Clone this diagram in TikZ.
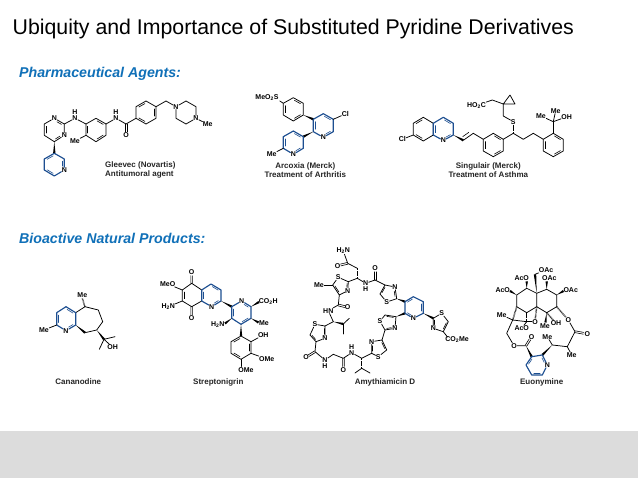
\documentclass[tikz,border=0pt]{standalone}
\usepackage{fontspec}
\setmainfont{Liberation Sans}
\usetikzlibrary{calc}
\definecolor{pyblue}{HTML}{1D4F91}
\definecolor{headblue}{HTML}{1070B8}
\definecolor{band}{HTML}{DCDCDC}
\tikzset{
  bond/.style={black,line width=.75pt,line join=round,line cap=round},
  py/.style={pyblue,line width=1.15pt,line join=round,line cap=round},
  inner/.style={line width=.6pt},
  atom/.style={font=\fontsize{7}{8}\selectfont\bfseries,inner sep=.2pt,text=black},
  capt/.style={font=\fontsize{8}{9}\selectfont\bfseries,inner sep=0pt,text=black!85,text height=5.8pt,text depth=1.6pt},
  head/.style={font=\fontsize{14.2}{16}\selectfont\bfseries\itshape,text=headblue,inner sep=0pt,anchor=base west},
  titletext/.style={font=\fontsize{21.3}{24}\selectfont,text=black,inner sep=0pt,anchor=base west},
  hashb/.style={black,line width=1.5pt,dash pattern=on .5pt off .7pt}
}
\newcommand\crd[3]{\coordinate (#1) at (#2,#3);}
\newcommand\atm[4]{\node[atom] (#1) at (#2,#3) {#4};}
\newcommand\bd[1]{\draw[bond] #1;}
\newcommand\pb[1]{\draw[py] #1;}
\newcommand\db[3]{\draw[bond,inner] ($($(#1)!.14!(#2)$)!.17!(#3)$) -- ($($(#2)!.14!(#1)$)!.17!(#3)$);}
\newcommand\dbN[3]{\draw[bond,inner] ($($(#1)!.14!(#2)$)!.17!(#3)$) -- ($($(#2)!.32!(#1)$)!.17!(#3)$);}
\newcommand\dbp[3]{\draw[py,inner] ($($(#1)!.14!(#2)$)!.17!(#3)$) -- ($($(#2)!.14!(#1)$)!.17!(#3)$);}
\newcommand\dbpN[3]{\draw[py,inner] ($($(#1)!.14!(#2)$)!.17!(#3)$) -- ($($(#2)!.32!(#1)$)!.17!(#3)$);}
\newcommand\dbl[2]{\draw[bond,inner] ($(#1)!.9pt!90:(#2)$) -- ($(#1)!.7!(#2)!.9pt!-90:(#1)$); \draw[bond,inner] ($(#1)!.9pt!-90:(#2)$) -- ($(#1)!.7!(#2)!.9pt!90:(#1)$);}
\newcommand\wdg[2]{\fill[black] (#1) -- ($(#2)!1.2pt!90:(#1)$) -- ($(#2)!1.2pt!-90:(#1)$) -- cycle;}
\newcommand\hsh[2]{\draw[hashb] (#1) -- (#2);}
\newcommand\sbs[1]{\textsubscript{#1}}
\begin{document}
\begin{tikzpicture}[x=1pt,y=-1pt]
\useasboundingbox (0,0) rectangle (638,478);
\fill[white] (0,0) rectangle (638,478);
\fill[band] (0,431) rectangle (638,478);
\node[titletext] (title) at (12.5,34.3) {Ubiquity and Importance of Substituted Pyridine Derivatives};
\node[head] (h1) at (19,77.5) {Pharmaceutical Agents:};
\node[head] (h2) at (19,243.3) {Bioactive Natural Products:};

%% Gleevec
\atm{gn1}{54.3}{118.3}{N}\atm{gn2}{64.3}{135.3}{N}
\crd{gc2}{64.3}{124}\crd{gc4}{54.3}{141.7}\crd{gc5}{44.3}{135.3}\crd{gc6}{44.3}{124}
\crd{gcen}{54.3}{130}
\bd{(gn1)--(gc2)--(gn2)--(gc4)--(gc5)--(gc6)--(gn1)}
\dbN{gc2}{gn1}{gcen}\db{gc5}{gc6}{gcen}\dbN{gc4}{gn2}{gcen}
\atm{gnh}{75}{118.3}{N}\node[atom] (gnhh) at (75,112.3) {H};
\crd{ga1}{86}{124}\crd{ga2}{96}{118.3}\crd{ga3}{106}{124}\crd{ga4}{106}{135.3}\crd{ga5}{96}{141.7}\crd{ga6}{86}{135.3}\crd{gac}{96}{130}
\bd{(gc2)--(gnh)--(ga1)--(ga2)--(ga3)--(ga4)--(ga5)--(ga6)--(ga1)}
\db{ga2}{ga3}{gac}\db{ga4}{ga5}{gac}\db{ga6}{ga1}{gac}
\atm{gme}{75}{141}{Me}\bd{(ga6)--(gme)}
\atm{gnh2}{116}{118.3}{N}\node[atom] (gnh2h) at (116,112.3) {H};
\crd{gco}{126}{124}\atm{go}{126}{135.3}{O}
\bd{(ga3)--(gnh2)--(gco)}\dbl{gco}{go}
\crd{gb1}{136}{118.3}\crd{gb2}{136}{106.7}\crd{gb3}{146}{101}\crd{gb4}{156}{106.7}\crd{gb5}{156}{118.3}\crd{gb6}{146}{124}\crd{gbc}{146}{112.5}
\bd{(gco)--(gb1)--(gb2)--(gb3)--(gb4)--(gb5)--(gb6)--(gb1)}
\db{gb2}{gb3}{gbc}\db{gb4}{gb5}{gbc}\db{gb6}{gb1}{gbc}
\crd{gch}{166}{101}\atm{gp1}{176}{106.7}{N}\crd{gp2}{186}{101}\crd{gp3}{196}{106.7}\atm{gp4}{196}{118.3}{N}\crd{gp5}{186}{124}\crd{gp6}{176}{118.3}
\bd{(gb4)--(gch)--(gp1)--(gp2)--(gp3)--(gp4)--(gp5)--(gp6)--(gp1)}
\atm{gpme}{207.7}{124.3}{Me}\bd{(gp4)--(gpme)}
\crd{gy1}{54.3}{153.3}\crd{gy2}{64.3}{159}\atm{gyn}{64.3}{170}{N}\crd{gy4}{54.3}{176}\crd{gy5}{44.3}{170}\crd{gy6}{44.3}{159}\crd{gyc}{54.3}{164.5}
\wdg{gc4}{gy1}
\pb{(gy1)--(gy2)--(gyn)--(gy4)--(gy5)--(gy6)--(gy1)}
\dbpN{gy2}{gyn}{gyc}\dbp{gy4}{gy5}{gyc}\dbp{gy6}{gy1}{gyc}
\node[capt,anchor=west] (gl1) at (105,165.5) {Gleevec (Novartis)};
\node[capt,anchor=west] (gl2) at (105,174.5) {Antitumoral agent};

%% Arcoxia
\atm{as}{267}{98}{MeO\sbs{2}S}
\crd{ar1}{293.3}{97.7}\crd{ar2}{303.3}{103.3}\crd{ar3}{303.3}{115}\crd{ar4}{293.3}{121}\crd{ar5}{283.3}{115}\crd{ar6}{283.3}{103.3}\crd{arc}{293.3}{109.3}
\crd{asb}{279.8}{101}
\bd{(asb)--(ar6)--(ar1)--(ar2)--(ar3)--(ar4)--(ar5)--(ar6)}
\db{ar1}{ar2}{arc}\db{ar3}{ar4}{arc}\db{ar5}{ar6}{arc}
\crd{ap1}{313.3}{119.3}\crd{ap2}{323.3}{113.7}\crd{ap3}{333.3}{119.3}\crd{ap4}{333.3}{131.7}\atm{apn}{323.3}{137.3}{N}\crd{ap6}{313.3}{131.7}\crd{apc}{323.3}{125.5}
\wdg{ar3}{ap1}
\pb{(ap1)--(ap2)--(ap3)--(ap4)--(apn)--(ap6)--(ap1)}
\dbp{ap2}{ap3}{apc}\dbpN{ap4}{apn}{apc}\dbp{ap6}{ap1}{apc}
\atm{acl}{345.3}{114}{Cl}\bd{(ap3)--(acl)}
\crd{aq1}{303.3}{136.7}\crd{aq2}{303.3}{148.3}\atm{aqn}{293.3}{154.3}{N}\crd{aq4}{283.3}{148.3}\crd{aq5}{283.3}{136.7}\crd{aq6}{293.3}{131}\crd{aqc}{293.3}{142.5}
\wdg{ap6}{aq1}
\pb{(aq1)--(aq2)--(aqn)--(aq4)--(aq5)--(aq6)--(aq1)}
\dbpN{aq2}{aqn}{aqc}\dbp{aq4}{aq5}{aqc}\dbp{aq6}{aq1}{aqc}
\atm{ame}{271.7}{154.3}{Me}\bd{(aq4)--(ame)}
\node[capt] (al1) at (305.3,166) {Arcoxia (Merck)};
\node[capt] (al2) at (305.3,175) {Treatment of Arthritis};

%% Singulair
\atm{scl}{402.3}{139.3}{Cl}
\crd{sa1}{413.3}{123.3}\crd{sa2}{423.3}{117.3}\crd{sa3}{433.3}{123.3}\crd{sa4}{433.3}{135}\crd{sa5}{423.3}{141}\crd{sa6}{413.3}{135}\crd{sac}{423.3}{129}
\bd{(scl)--(sa6)--(sa1)--(sa2)--(sa3)--(sa4)--(sa5)--(sa6)}
\db{sa1}{sa2}{sac}\db{sa5}{sa6}{sac}
\crd{sb2}{443.3}{117.3}\crd{sb3}{453.3}{123.3}\crd{sb4}{453.3}{135}\atm{sbn}{443.3}{140.5}{N}\crd{sbc}{443.3}{129}
\pb{(sa3)--(sb2)--(sb3)--(sb4)--(sbn)--(sa4)--(sa3)}
\dbp{sb2}{sb3}{sbc}\dbpN{sb4}{sbn}{sbc}\dbp{sa3}{sa4}{sbc}
\crd{sv1}{463.3}{140.3}\crd{sv2}{473.3}{133.3}
\wdg{sb4}{sv1}
\crd{sr1}{483.3}{139.3}\crd{sr2}{493.3}{133.3}\crd{sr3}{503.3}{139.3}\crd{sr4}{503.3}{151}\crd{sr5}{493.3}{156.7}\crd{sr6}{483.3}{151}\crd{src}{493.3}{145}
\bd{(sv1)--(sv2)--(sr1)--(sr2)--(sr3)--(sr4)--(sr5)--(sr6)--(sr1)}
\db{sv1}{sv2}{sb3}
\db{sr2}{sr3}{src}\db{sr4}{sr5}{src}\db{sr6}{sr1}{src}
\crd{sc1}{513.3}{133.3}\crd{sc2}{523.3}{139.3}\crd{sc3}{533.3}{133.3}
\crd{st1}{543.3}{139.3}\crd{st2}{553.3}{133.3}\crd{st3}{563.3}{139.3}\crd{st4}{563.3}{151}\crd{st5}{553.3}{156.7}\crd{st6}{543.3}{151}\crd{stc}{553.3}{145}
\bd{(sr3)--(sc1)--(sc2)--(sc3)--(st1)--(st2)--(st3)--(st4)--(st5)--(st6)--(st1)}
\db{st2}{st3}{stc}\db{st4}{st5}{stc}\db{st6}{st1}{stc}
\atm{ss}{513.3}{121.7}{S}\hsh{sc1}{ss}
\crd{sch}{503.3}{116}\crd{scp}{503.3}{104}\crd{scp2}{510}{95}\crd{scp3}{515}{104}\crd{sch2}{492.3}{100}
\atm{sco}{476.5}{105.5}{HO\sbs{2}C}
\bd{(ss)--(sch)--(scp)--(scp2)--(scp3)--(scp)--(sch2)--(sco)}
\crd{sq}{553.3}{121.7}\bd{(st2)--(sq)}
\atm{sme1}{555.7}{110.7}{Me}\atm{sme2}{541}{116}{Me}\atm{soh}{566.7}{116.7}{OH}
\bd{(sme1)--(sq)--(sme2)}\bd{(sq)--(soh)}
\node[capt] (sl1) at (488.3,166) {Singulair (Merck)};
\node[capt] (sl2) at (488.3,175) {Treatment of Asthma};

%% Cananodine
\crd{cp1}{56.7}{312.7}\crd{cp2}{66}{306.7}\crd{cp3}{75.7}{312.7}\crd{cp4}{75.7}{325}\atm{cpn}{66}{330.7}{N}\crd{cp6}{56.7}{325}\crd{cpc}{66}{318.7}
\crd{c7a}{85}{306.7}\crd{c7b}{98.3}{310}\crd{c7c}{102.7}{321.7}\crd{c7d}{96.7}{330}\crd{c7e}{85}{332.7}
\bd{(cp3)--(c7a)--(c7b)--(c7c)--(c7d)--(c7e)}
\wdg{cp4}{c7e}
\pb{(cp1)--(cp2)--(cp3)--(cp4)--(cpn)--(cp6)--(cp1)}
\dbp{cp2}{cp3}{cpc}\dbpN{cp4}{cpn}{cpc}\dbp{cp6}{cp1}{cpc}
\atm{cme}{44}{330}{Me}\bd{(cp6)--(cme)}
\atm{cme2}{82.3}{295}{Me}\hsh{c7a}{$(cme2)+(0,3.5)$}
\crd{cq}{104}{339.3}\wdg{c7d}{cq}
\crd{cm3}{115}{336.7}\crd{cm4}{99.3}{349.3}\atm{coh}{112.7}{347.3}{OH}
\bd{(cm3)--(cq)--(cm4)}\bd{(cq)--(coh)}
\node[capt] (cl) at (78.3,382.3) {Cananodine};

%% Streptonigrin
\crd{ta1}{191.7}{283.3}\atm{tao}{191.7}{272.5}{O}\crd{ta2}{182.3}{290}\crd{ta3}{182.3}{301}\crd{ta4}{191.7}{306.7}\atm{tbo}{191.7}{318.3}{O}\crd{ta5}{201.7}{301}\crd{ta6}{201.7}{290}\crd{tac}{192}{295}
\bd{(ta5)--(ta4)--(ta3)--(ta2)--(ta1)--(ta6)}
\db{ta2}{ta3}{tac}\dbl{ta1}{tao}\dbl{ta4}{tbo}
\crd{tb2}{211}{284}\crd{tb3}{221}{290}\crd{tb4}{221}{301}\atm{tbn}{211.7}{306.7}{N}\crd{tbc}{211.5}{295}
\pb{(ta6)--(tb2)--(tb3)--(tb4)--(tbn)--(ta5)--(ta6)}
\dbp{tb2}{tb3}{tbc}\dbpN{tb4}{tbn}{tbc}\dbp{ta5}{ta6}{tbc}
\atm{tmeo}{167.7}{284}{MeO}\bd{(tmeo)--(ta2)}
\atm{th2n}{168.3}{306.7}{H\sbs{2}N}\bd{(th2n)--(ta3)}
\crd{tc1}{231.7}{306.7}\atm{tcn}{241.7}{301}{N}\crd{tc3}{251}{306.7}\crd{tc4}{251}{318.3}\crd{tc5}{241}{324.3}\crd{tc6}{231.7}{318.3}\crd{tcc}{241.3}{312.7}
\wdg{tb4}{tc1}
\pb{(tc1)--(tcn)--(tc3)--(tc4)--(tc5)--(tc6)--(tc1)}
\dbpN{tc3}{tcn}{tcc}\dbp{tc4}{tc5}{tcc}\dbp{tc6}{tc1}{tcc}
\atm{tco2}{268.3}{301.7}{CO\sbs{2}H}\crd{tcob}{259}{302}\wdg{tc3}{tcob}
\atm{tme}{264}{323.3}{Me}\crd{tmeb}{258.5}{322.5}\wdg{tc4}{tmeb}
\atm{tnh}{217.7}{324.3}{H\sbs{2}N}\crd{tnhb}{225}{323.5}\wdg{tc6}{tnhb}
\crd{td1}{241}{336}\crd{td2}{251}{341.7}\crd{td3}{251}{353.3}\crd{td4}{241}{359.3}\crd{td5}{231}{353.3}\crd{td6}{231}{341.7}\crd{tdc}{241}{347.5}
\wdg{tc5}{td1}
\bd{(td1)--(td2)--(td3)--(td4)--(td5)--(td6)--cycle}
\db{td1}{td6}{tdc}\db{td4}{td5}{tdc}\db{td2}{td3}{tdc}
\atm{toh}{263.3}{335}{OH}\bd{(td2)--(toh)}
\atm{tome}{266.7}{359}{OMe}\bd{(td3)--(tome)}
\atm{tom2}{246}{370}{OMe}\crd{tomb}{241}{366.5}\bd{(td4)--(tomb)}
\node[capt] (tl) at (218.3,382.3) {Streptonigrin};

%% Amythiamicin D
\atm{yh2n}{343.3}{251}{H\sbs{2}N}\crd{yc}{347.7}{263.3}\atm{yo}{337.7}{265.7}{O}\crd{ych}{357.3}{268.3}\crd{yst}{357.3}{278.3}
\bd{(yh2n)--(yc)--(ych)}\dbl{yc}{yo}\hsh{yst}{ych}
\crd{y1c2}{348.3}{281.7}\atm{y1s}{338.3}{277.3}{S}\crd{y1c5}{332.7}{285}\crd{y1c4}{339.3}{295}\atm{y1n}{347.7}{290.7}{N}\crd{y1c}{342}{285}
\bd{(yst)--(y1c2)--(y1s)--(y1c5)--(y1c4)--(y1n)--(y1c2)}\db{y1c5}{y1c4}{y1c}\dbN{y1c2}{y1n}{y1c}
\atm{yme}{319}{285}{Me}\bd{(yme)--(y1c5)}
\atm{ynh}{365.7}{283.3}{N}\node[atom] (ynhh) at (365.7,289.3) {H};
\crd{yco}{375}{280}\atm{yoo}{375}{268.3}{O}
\bd{(yst)--(ynh)--(yco)}\dbl{yco}{yoo}
\crd{y2c4}{385}{285}\crd{y2c5}{380}{294}\atm{y2s}{386.7}{302}{S}\crd{y2c2}{396.7}{298.7}\atm{y2n}{395}{287}{N}\crd{y2c}{388}{293}
\bd{(yco)--(y2c4)--(y2c5)--(y2s)--(y2c2)--(y2n)--(y2c4)}\db{y2c4}{y2c5}{y2c}\dbN{y2c2}{y2n}{y2c}
\crd{yc2}{338.3}{305}\atm{yo2}{347.7}{307.3}{O}\atm{yhn}{328.3}{310.7}{HN}\crd{ya}{333.3}{321.7}
\bd{(y1c4)--(yc2)--(yhn)--(ya)}\dbl{yc2}{yo2}
\crd{yib}{343.3}{324}\crd{yim1}{349.3}{318.3}\crd{yim2}{343.3}{334}
\wdg{ya}{yib}\bd{(yib)--(yim1)}\bd{(yib)--(yim2)}
\crd{y3c2}{325}{326}\atm{y3s}{315}{324.3}{S}\crd{y3c5}{310}{335}\crd{y3c4}{316}{341.7}\atm{y3n}{325}{338.3}{N}\crd{y3c}{318}{333}
\bd{(ya)--(y3c2)--(y3s)--(y3c5)--(y3c4)--(y3n)--(y3c2)}\db{y3c5}{y3c4}{y3c}\dbN{y3c2}{y3n}{y3c}
\crd{yc3}{315}{351.7}\atm{yo3}{306}{357.3}{O}\atm{yn3}{325}{360}{N}\node[atom] (yn3h) at (325,366) {H};
\crd{ych3}{333.3}{354.3}\crd{yc4}{343.3}{358.3}\atm{yo4}{343.3}{370}{O}\atm{yn4}{351.7}{352.7}{N}\node[atom] (yn4h) at (351.7,346.7) {H};
\crd{yd}{361.7}{358.3}\crd{yi}{361.7}{368.3}\crd{yj1}{355}{373}\crd{yj2}{370}{373}
\bd{(y3c4)--(yc3)--(yn3)--(ych3)--(yc4)--(yn4)--(yd)}\dbl{yc3}{yo3}\dbl{yc4}{yo4}
\hsh{yd}{yi}\bd{(yj1)--(yi)--(yj2)}
\crd{y4c2}{371.7}{353.3}\atm{y4n}{371.7}{341.7}{N}\crd{y4c4}{382}{340}\crd{y4c5}{386.7}{350}\atm{y4s}{378.3}{356.7}{S}\crd{y4c}{378}{348}
\bd{(yd)--(y4c2)--(y4n)--(y4c4)--(y4c5)--(y4s)--(y4c2)}\dbN{y4c2}{y4n}{y4c}\db{y4c4}{y4c5}{y4c}
\crd{y5c2}{385}{330}\atm{y5n}{395}{328.3}{N}\crd{y5c4}{396}{316.7}\crd{y5c5}{385}{315}\atm{y5s}{380}{321.3}{S}\crd{y5c}{388.5}{322}
\bd{(y4c4)--(y5c2)--(y5n)--(y5c4)--(y5c5)--(y5s)--(y5c2)}\dbN{y5c2}{y5n}{y5c}\db{y5c4}{y5c5}{y5c}
\crd{yp1}{405}{301.7}\crd{yp2}{413.3}{296.7}\crd{yp3}{423.3}{301.7}\crd{yp4}{423.3}{313.3}\atm{ypn}{413.3}{318.3}{N}\crd{yp6}{405}{313.3}\crd{ypc}{414}{307.5}
\wdg{y2c2}{yp1}\wdg{y5c4}{yp6}
\pb{(yp1)--(yp2)--(yp3)--(yp4)--(ypn)--(yp6)--(yp1)}
\dbp{yp1}{yp2}{ypc}\dbp{yp3}{yp4}{ypc}\dbpN{yp6}{ypn}{ypc}
\crd{y6c2}{433.3}{318.3}\atm{y6s}{441.7}{313.3}{S}\crd{y6c5}{448.3}{321.7}\crd{y6c4}{443.3}{331.7}\atm{y6n}{433.3}{328.3}{N}\crd{y6c}{440}{322}
\wdg{yp4}{y6c2}
\bd{(y6c2)--(y6s)--(y6c5)--(y6c4)--(y6n)--(y6c2)}\db{y6c5}{y6c4}{y6c}\dbN{y6c2}{y6n}{y6c}
\atm{yco2}{457}{340}{CO\sbs{2}Me}\crd{ycob}{447.5}{337}\bd{(y6c4)--(ycob)}
\node[capt] (yl) at (385,382.3) {Amythiamicin D};

%% Euonymine
\crd{e9}{536.7}{293.3}\crd{ea1}{526.7}{288.3}\crd{ea2}{516.7}{295}\crd{ea3}{516.7}{306.7}\crd{ea4}{526.7}{312.7}\crd{ea5}{536.7}{306.7}
\crd{eb1}{546.7}{289.3}\crd{eb2}{556.7}{295}\crd{eb3}{556.7}{306.7}\crd{eb4}{546.7}{312.7}
\bd{(e9)--(ea1)--(ea2)--(ea3)--(ea4)--(ea5)--(e9)--(eb1)--(eb2)--(eb3)--(eb4)--(ea5)}
\atm{eo1}{521.7}{278.3}{AcO}\crd{eo1b}{526.7}{281.5}\wdg{ea1}{eo1b}
\atm{eo2}{549.3}{278.3}{OAc}\crd{eo2b}{546.7}{281.5}\wdg{eb1}{eo2b}
\atm{eo3}{570.7}{290}{OAc}\crd{eo3b}{563.5}{291}\wdg{eb2}{eo3b}
\atm{eo4}{502.7}{290}{AcO}\crd{eo4b}{510}{291}\wdg{ea2}{eo4b}
\crd{ech}{535}{274.3}\atm{eo5}{546}{270}{OAc}\wdg{e9}{ech}\bd{(ech)--(eo5)}
\crd{ee}{512.7}{320}\hsh{ea3}{ee}
\atm{eme}{501.7}{315}{Me}\bd{(eme)--(ee)}
\crd{ef}{526.7}{321.7}\bd{(ee)--(ef)}\hsh{ea4}{ef}
\atm{eaco}{521.7}{328.3}{AcO}\bd{(ef)--(eaco)}
\atm{eoo}{535}{321.7}{O}\bd{(ef)--(eoo)}\hsh{ea5}{eoo}
\crd{eg}{506.7}{333.3}\atm{eo6}{514}{345.7}{O}\crd{ecoo}{526}{345.7}\atm{eo7}{531.7}{336.7}{O}
\bd{(ee)--(eg)--(eo6)--(ecoo)}\dbl{ecoo}{eo7}
\atm{eme2}{545}{326}{Me}\crd{eme2b}{545.5}{322.5}\wdg{eb4}{eme2b}
\atm{eoh}{556}{323.3}{OH}\hsh{eb4}{eoh}
\atm{eo8}{568.3}{320}{O}\hsh{eb3}{eo8}
\crd{eh}{575}{331.7}\atm{eo9}{587.3}{334}{O}\crd{ei}{567.3}{346.7}\atm{eme3}{571.7}{355}{Me}\crd{ej}{552.3}{345}\atm{eme4}{547.3}{336.7}{Me}
\bd{(eo8)--(eh)--(ei)--(ej)--(eme4)}\bd{(ei)--(eme3)}\dbl{eh}{eo9}
\crd{ey1}{531.7}{356.7}\crd{ey2}{542.3}{355}\atm{eyn}{547.3}{365}{N}\crd{ey4}{542.3}{375}\crd{ey5}{531.7}{375}\crd{ey6}{526}{365}\crd{eyc}{537}{365.5}
\wdg{ecoo}{ey1}\wdg{ej}{ey2}
\pb{(ey1)--(ey2)--(eyn)--(ey4)--(ey5)--(ey6)--(ey1)}
\dbpN{ey2}{eyn}{eyc}\dbp{ey4}{ey5}{eyc}\dbp{ey6}{ey1}{eyc}
\node[capt] (el) at (541.7,382.3) {Euonymine};
\end{tikzpicture}
\end{document}
